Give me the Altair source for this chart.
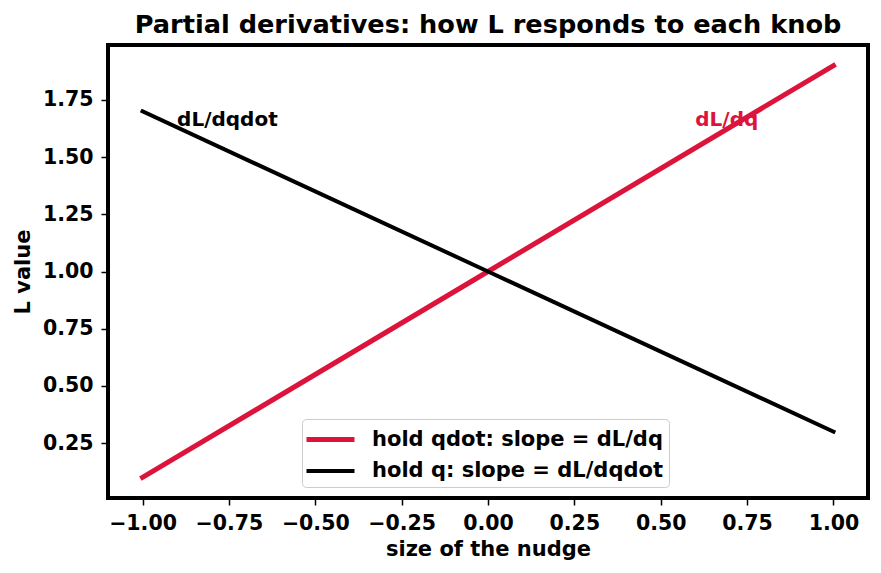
import altair as alt
import pandas as pd

# Data
nudge = [-1.0, 0.0, 1.0]
hold_qdot = [0.1, 1.0, 1.9]      # slope = dL/dq
hold_q = [1.7, 1.0, 0.3]         # slope = dL/dqdot
series_names = ["hold qdot: slope = dL/dq", "hold q: slope = dL/dqdot"]
series_colors = ["#DC143C", "#000000"]
series_widths = [5, 4]

ann_x = [-0.9, 0.6]
ann_y = [1.65, 1.65]
ann_text = ["dL/dqdot", "dL/dq"]
ann_color = ["#000000", "#DC143C"]

x_ticks = [-1.0, -0.75, -0.5, -0.25, 0.0, 0.25, 0.5, 0.75, 1.0]
y_ticks = [0.25, 0.5, 0.75, 1.0, 1.25, 1.5, 1.75]

rows = []
for name, ys in zip(series_names, [hold_qdot, hold_q]):
    for xv, yv in zip(nudge, ys):
        rows.append({"x": xv, "y": yv, "series": name})
df = pd.DataFrame(rows)
ann = pd.DataFrame({"x": ann_x, "y": ann_y, "text": ann_text, "color": ann_color})

FONT = "DejaVu Sans"

xscale = alt.Scale(domain=[-1.1, 1.1], nice=False, zero=False)
yscale = alt.Scale(domain=[0.01, 1.99], nice=False, zero=False)

leg = alt.Legend(title=None, orient="none", legendX=194, legendY=374)

lines = alt.Chart(df).mark_line(strokeCap="square").encode(
    x=alt.X("x:Q", scale=xscale,
            axis=alt.Axis(title="size of the nudge", values=x_ticks, format=".2f",
                          titleY=57, titleBaseline="alphabetic")),
    y=alt.Y("y:Q", scale=yscale,
            axis=alt.Axis(title="L value", values=y_ticks, format=".2f",
                          titleX=-79, titleBaseline="alphabetic", titleAngle=-90)),
    color=alt.Color("series:N", scale=alt.Scale(domain=series_names, range=series_colors),
                    legend=leg),
    strokeWidth=alt.StrokeWidth("series:N", scale=alt.Scale(domain=series_names, range=series_widths),
                                legend=leg),
)

texts = alt.Chart(ann).mark_text(align="left", baseline="alphabetic", dy=3,
                                 font=FONT, fontSize=20, fontWeight="bold").encode(
    x=alt.X("x:Q", scale=xscale),
    y=alt.Y("y:Q", scale=yscale),
    text="text:N",
    color=alt.Color("color:N", scale=None),
)

chart = alt.layer(lines, texts).properties(
    width=760, height=453,
    background="white",
    title=alt.TitleParams("Partial derivatives: how L responds to each knob",
                          font=FONT, fontSize=25.6, fontWeight="bold", color="black",
                          anchor="middle", baseline="alphabetic", offset=12, dy=26),
    autosize=alt.AutoSizeParams(type="none"),
    padding={"left": 108, "top": 45, "right": 13, "bottom": 75},
).configure_view(
    stroke="black", strokeWidth=4,
).configure_axis(
    grid=False, domain=False,
    ticks=True, tickColor="black", tickWidth=1.5, tickSize=7,
    labelFont=FONT, labelFontSize=20.5, labelFontWeight="bold", labelColor="black",
    titleFont=FONT, titleFontSize=21, titleFontWeight="bold", titleColor="black",
    labelPadding=8,
).configure_legend(
    labelFont=FONT, labelFontSize=21, labelFontWeight="bold", labelColor="black",
    symbolType="M-2,0L2,0", symbolSize=576, symbolOffset=8,
    fillColor="white", strokeColor="#cccccc", cornerRadius=4, padding=6,
    rowPadding=7, labelOffset=27, labelLimit=500,
)

chart.save("out.html", embed_options={"renderer": "svg", "actions": False})
